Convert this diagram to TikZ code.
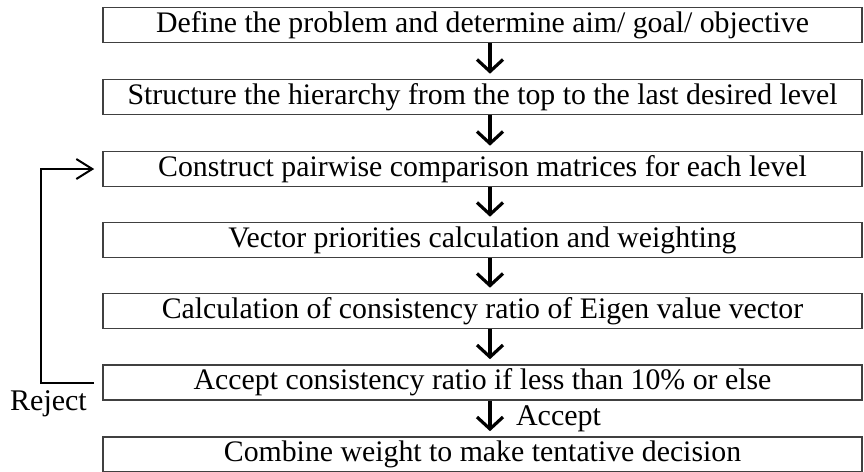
\documentclass[tikz,border=0pt]{standalone}
\usepackage{fontspec}
\setmainfont{Liberation Serif}
\usetikzlibrary{arrows.meta}

\begin{document}
\begin{tikzpicture}[x=.5pt,y=-.5pt]
\path[use as bounding box] (0,0) rectangle (864,472);
\tikzset{stagebox/.style={draw=black!75,line width=.8pt,minimum width=379.5pt,minimum height=17.5pt,inner sep=0pt,font=\fontsize{14.9}{17}\selectfont},
  flowarrow/.style={line width=1.6pt,shorten >=2.5pt,-{Straight Barb[length=6pt,width=13pt,line width=1.6pt]}},
  loopline/.style={line width=1pt,shorten <=4pt,shorten >=4pt,-{Straight Barb[length=8pt,width=10pt,line width=1pt]}},
  tag/.style={inner sep=0pt,font=\fontsize{15}{17}\selectfont}}
\node[stagebox] (b1) at (482.5,25) {Define the problem and determine aim/ goal/ objective};
\node[stagebox] (b2) at (482.5,97) {Structure the hierarchy from the top to the last desired level};
\node[stagebox] (b3) at (482.5,169) {Construct pairwise comparison matrices for each level};
\node[stagebox] (b4) at (482.5,240) {Vector priorities calculation and weighting};
\node[stagebox] (b5) at (482.5,311) {Calculation of consistency ratio of Eigen value vector};
\node[stagebox] (b6) at (482.5,382.5) {Accept consistency ratio if less than 10\% or else};
\node[stagebox] (b7) at (482.5,454.5) {Combine weight to make tentative decision};
% arrows down the chain
\draw[flowarrow] ([xshift=3.75pt]b1.south) -- ([xshift=3.75pt]b2.north);
\draw[flowarrow] ([xshift=3.75pt]b2.south) -- ([xshift=3.75pt]b3.north);
\draw[flowarrow] ([xshift=3.75pt]b3.south) -- ([xshift=3.75pt]b4.north);
\draw[flowarrow] ([xshift=3.75pt]b4.south) -- ([xshift=3.75pt]b5.north);
\draw[flowarrow] ([xshift=3.75pt]b5.south) -- ([xshift=3.75pt]b6.north);
\draw[flowarrow] ([xshift=3.75pt]b6.south) -- ([xshift=3.75pt]b7.north);
% feedback loop
\draw[loopline] (b6.west) -- ++(-61,0) |- (b3.west);
\node[tag] (reject) at (48.5,404) {Reject};
\node[tag] (accept) at (558.5,419) {Accept};
\end{tikzpicture}
\end{document}
